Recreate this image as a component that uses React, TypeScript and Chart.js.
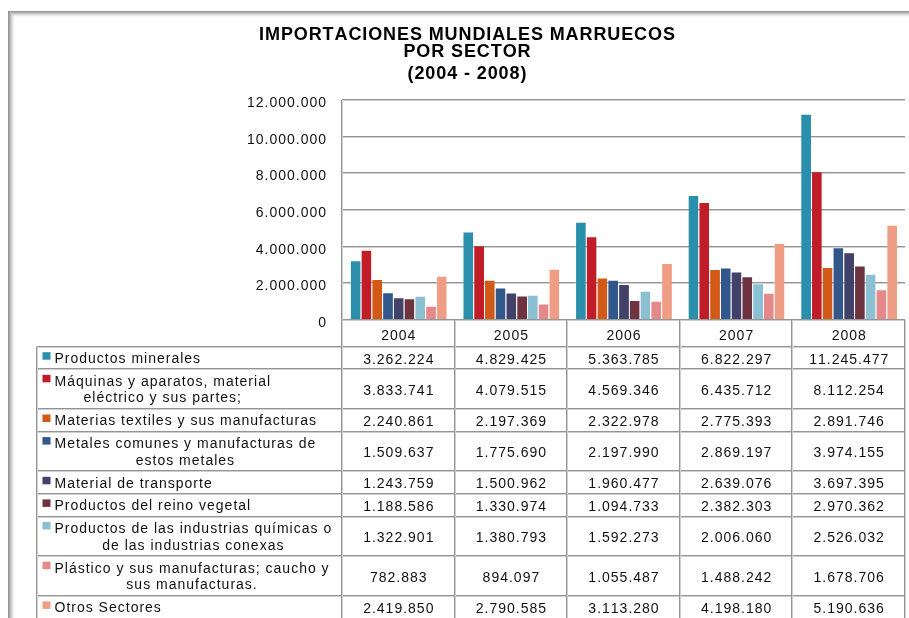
import React, { useEffect, useRef } from "react";
import { Chart, registerables } from "chart.js";

Chart.register(...registerables);

// ---------- data ----------
const years = ["2004", "2005", "2006", "2007", "2008"];

const titleLines = ["IMPORTACIONES MUNDIALES MARRUECOS", "POR SECTOR", "(2004 - 2008)"];

const seriesNames: string[][] = [
  ["Productos minerales"],
  ["Máquinas y aparatos, material", "eléctrico y sus partes;"],
  ["Materias textiles y sus manufacturas"],
  ["Metales comunes y manufacturas de", "estos metales"],
  ["Material de transporte"],
  ["Productos del reino vegetal"],
  ["Productos de las industrias químicas o", "de las industrias conexas"],
  ["Plástico y sus manufacturas; caucho y", "sus manufacturas."],
  ["Otros Sectores"],
];

const productosMinerales = [3262224, 4829425, 5363785, 6822297, 11245477];
const maquinasAparatos = [3833741, 4079515, 4569346, 6435712, 8112254];
const materiasTextiles = [2240861, 2197369, 2322978, 2775393, 2891746];
const metalesComunes = [1509637, 1775690, 2197990, 2869197, 3974155];
const materialTransporte = [1243759, 1500962, 1960477, 2639076, 3697395];
const reinoVegetal = [1188586, 1330974, 1094733, 2382303, 2970362];
const industriasQuimicas = [1322901, 1380793, 1592273, 2006060, 2526032];
const plasticoCaucho = [782883, 894097, 1055487, 1488242, 1678706];
const otrosSectores = [2419850, 2790585, 3113280, 4198180, 5190636];

const seriesValues = [
  productosMinerales,
  maquinasAparatos,
  materiasTextiles,
  metalesComunes,
  materialTransporte,
  reinoVegetal,
  industriasQuimicas,
  plasticoCaucho,
  otrosSectores,
];

const yMin = 0;
const yMax = 12000000;
const yStep = 2000000;

// ---------- styles ----------
const seriesColors = [
  "#2a8fab",
  "#c11d28",
  "#d25a19",
  "#31578b",
  "#414169",
  "#6d3340",
  "#8bbfd2",
  "#e48889",
  "#f09d86",
];

const FONT = '"Liberation Sans", Arial, Helvetica, sans-serif';
const W = 909;
const H = 618;

function fmt(n: number): string {
  return String(n).replace(/\B(?=(\d{3})+(?!\d))/g, ".");
}

function textWidth(ctx: CanvasRenderingContext2D, s: string, spacing: number) {
  let w = 0;
  for (const ch of s) w += ctx.measureText(ch).width + spacing;
  return w - spacing;
}

function drawText(
  ctx: CanvasRenderingContext2D,
  s: string,
  x: number,
  y: number,
  align: "left" | "center" | "right",
  font: string,
  spacing: number,
  color: string
) {
  ctx.save();
  ctx.font = font;
  ctx.fillStyle = color;
  ctx.textAlign = "left";
  ctx.textBaseline = "alphabetic";
  const w = textWidth(ctx, s, spacing);
  let cx = align === "left" ? x : align === "center" ? x - w / 2 : x - w;
  for (const ch of s) {
    ctx.fillText(ch, cx, y);
    cx += ctx.measureText(ch).width + spacing;
  }
  ctx.restore();
}

function hLine(ctx: CanvasRenderingContext2D, x1: number, x2: number, y: number) {
  const yy = Math.round(y);
  ctx.fillStyle = "#959595";
  ctx.fillRect(x1, yy - 1, x2 - x1, 1);
  ctx.fillStyle = "#cfcfcf";
  ctx.fillRect(x1, yy, x2 - x1, 1);
}

function vLine(ctx: CanvasRenderingContext2D, x: number, y1: number, y2: number) {
  const xx = Math.round(x);
  ctx.fillStyle = "#959595";
  ctx.fillRect(xx - 1, y1, 1, y2 - y1);
  ctx.fillStyle = "#cfcfcf";
  ctx.fillRect(xx, y1, 1, y2 - y1);
}

const ROW_SINGLE = 22.6;
const ROW_DOUBLE = 39.7;
const HEADER_H = 26.7;
const TABLE_LEFT = 37;

const tablePlugin = {
  id: "tablePlugin",
  beforeDraw(chart: any) {
    const ctx: CanvasRenderingContext2D = chart.ctx;
    ctx.save();
    ctx.fillStyle = "#ffffff";
    ctx.fillRect(0, 0, W, H);
    // frame with soft shadow
    const fx = 8;
    const fy = 11;
    let g = ctx.createLinearGradient(fx, 0, fx + 8, 0);
    g.addColorStop(0, "#8e8e8e");
    g.addColorStop(0.3, "#b8b8b8");
    g.addColorStop(1, "rgba(255,255,255,0)");
    ctx.fillStyle = g;
    ctx.fillRect(fx, fy, 8, H - fy);
    g = ctx.createLinearGradient(0, fy, 0, fy + 7);
    g.addColorStop(0, "#8e8e8e");
    g.addColorStop(0.3, "#b8b8b8");
    g.addColorStop(1, "rgba(255,255,255,0)");
    ctx.fillStyle = g;
    ctx.fillRect(fx + 3, fy, W - fx, 7);
    ctx.fillStyle = "#8e8e8e";
    ctx.fillRect(fx, fy, 2, 2);
    ctx.restore();
  },
  beforeDatasetsDraw(chart: any) {
    const ctx: CanvasRenderingContext2D = chart.ctx;
    const { left, right } = chart.chartArea;
    const ys = chart.scales.y;
    ctx.save();
    for (let v = yMin + yStep; v <= yMax; v += yStep) {
      hLine(ctx, left, right, ys.getPixelForValue(v));
    }
    ctx.restore();
  },
  afterDatasetsDraw(chart: any) {
    const ctx: CanvasRenderingContext2D = chart.ctx;
    const { left, right, top, bottom } = chart.chartArea;
    const ys = chart.scales.y;
    const xs = chart.scales.x;
    const n = years.length;
    const colW = (right - left) / n;
    ctx.save();

    // title
    const tFont = `bold 18px ${FONT}`;
    const tBase = [39.5, 57, 78.5];
    titleLines.forEach((t, i) => drawText(ctx, t, 467, tBase[i], "center", tFont, 0.9, "#000"));

    // y tick labels
    const font = `14px ${FONT}`;
    for (let v = yMin; v <= yMax; v += yStep) {
      drawText(ctx, fmt(v), 326, ys.getPixelForValue(v) + 7, "right", font, 1, "#111");
    }

    // baseline
    hLine(ctx, left, right, ys.getPixelForValue(0));

    // table geometry
    const headerTop = bottom;
    const headerBottom = headerTop + HEADER_H;
    const rowTops: number[] = [];
    let y = headerBottom;
    seriesNames.forEach((lines) => {
      rowTops.push(y);
      y += lines.length > 1 ? ROW_DOUBLE : ROW_SINGLE;
    });
    const tableBottom = y;

    // header row with years
    years.forEach((yr, i) => {
      drawText(ctx, yr, xs.getPixelForValue(i), headerTop + 19.5, "center", font, 1, "#111");
    });

    // horizontal lines
    hLine(ctx, TABLE_LEFT, right, headerBottom);
    rowTops.slice(1).forEach((rt) => hLine(ctx, TABLE_LEFT, right, rt));
    hLine(ctx, TABLE_LEFT, right, tableBottom);

    // vertical lines
    vLine(ctx, left, top, tableBottom);
    vLine(ctx, TABLE_LEFT, headerBottom, tableBottom);
    for (let i = 1; i <= n; i++) {
      vLine(ctx, left + i * colW, headerTop, tableBottom);
    }

    // rows
    seriesNames.forEach((lines, r) => {
      const rt = rowTops[r];
      const rh = lines.length > 1 ? ROW_DOUBLE : ROW_SINGLE;
      const cy = rt + rh / 2;
      // swatch
      ctx.fillStyle = seriesColors[r];
      ctx.fillRect(42.5, rt + 5.5, 8, 7.5);
      // label
      ctx.font = font;
      const widths = lines.map((l) => textWidth(ctx, l, 1));
      const blockW = Math.max(...widths);
      const blockCx = 54.5 + blockW / 2;
      const lh = 16.6;
      lines.forEach((l, k) => {
        const by = cy + 5 + (k - (lines.length - 1) / 2) * lh;
        if (lines.length === 1) drawText(ctx, l, 54.5, by, "left", font, 1, "#111");
        else drawText(ctx, l, blockCx, by, "center", font, 1, "#111");
      });
      // values
      seriesValues[r].forEach((v, i) => {
        drawText(ctx, fmt(v), xs.getPixelForValue(i), cy + 5.5, "center", font, 1, "#111");
      });
    });

    ctx.restore();
  },
};

export default function App() {
  const ref = useRef<HTMLCanvasElement | null>(null);

  useEffect(() => {
    if (!ref.current) return;
    const chart = new Chart(ref.current, {
      type: "bar",
      data: {
        labels: years,
        datasets: seriesValues.map((vals, i) => ({
          label: seriesNames[i].join(" "),
          data: vals,
          backgroundColor: seriesColors[i],
          borderColor: "rgba(255,255,255,0.25)",
          borderWidth: { top: 1, left: 1, right: 0, bottom: 0 },
          borderSkipped: false,
          categoryPercentage: 0.86,
          barPercentage: 1,
        })),
      },
      options: {
        responsive: false,
        animation: false,
        devicePixelRatio: 1,
        layout: { padding: { left: 342, right: 4, top: 100, bottom: 298 } },
        plugins: {
          legend: { display: false },
          title: { display: false },
          tooltip: { enabled: false },
        },
        scales: {
          x: { display: false },
          y: { display: false, min: yMin, max: yMax, ticks: { stepSize: yStep } },
        },
      },
      plugins: [tablePlugin],
    });
    return () => chart.destroy();
  }, []);

  return (
    <div style={{ position: "fixed", left: 0, top: 0, width: W, height: H, background: "#fff" }}>
      <canvas ref={ref} width={W} height={H} style={{ display: "block", width: W, height: H }} />
    </div>
  );
}
